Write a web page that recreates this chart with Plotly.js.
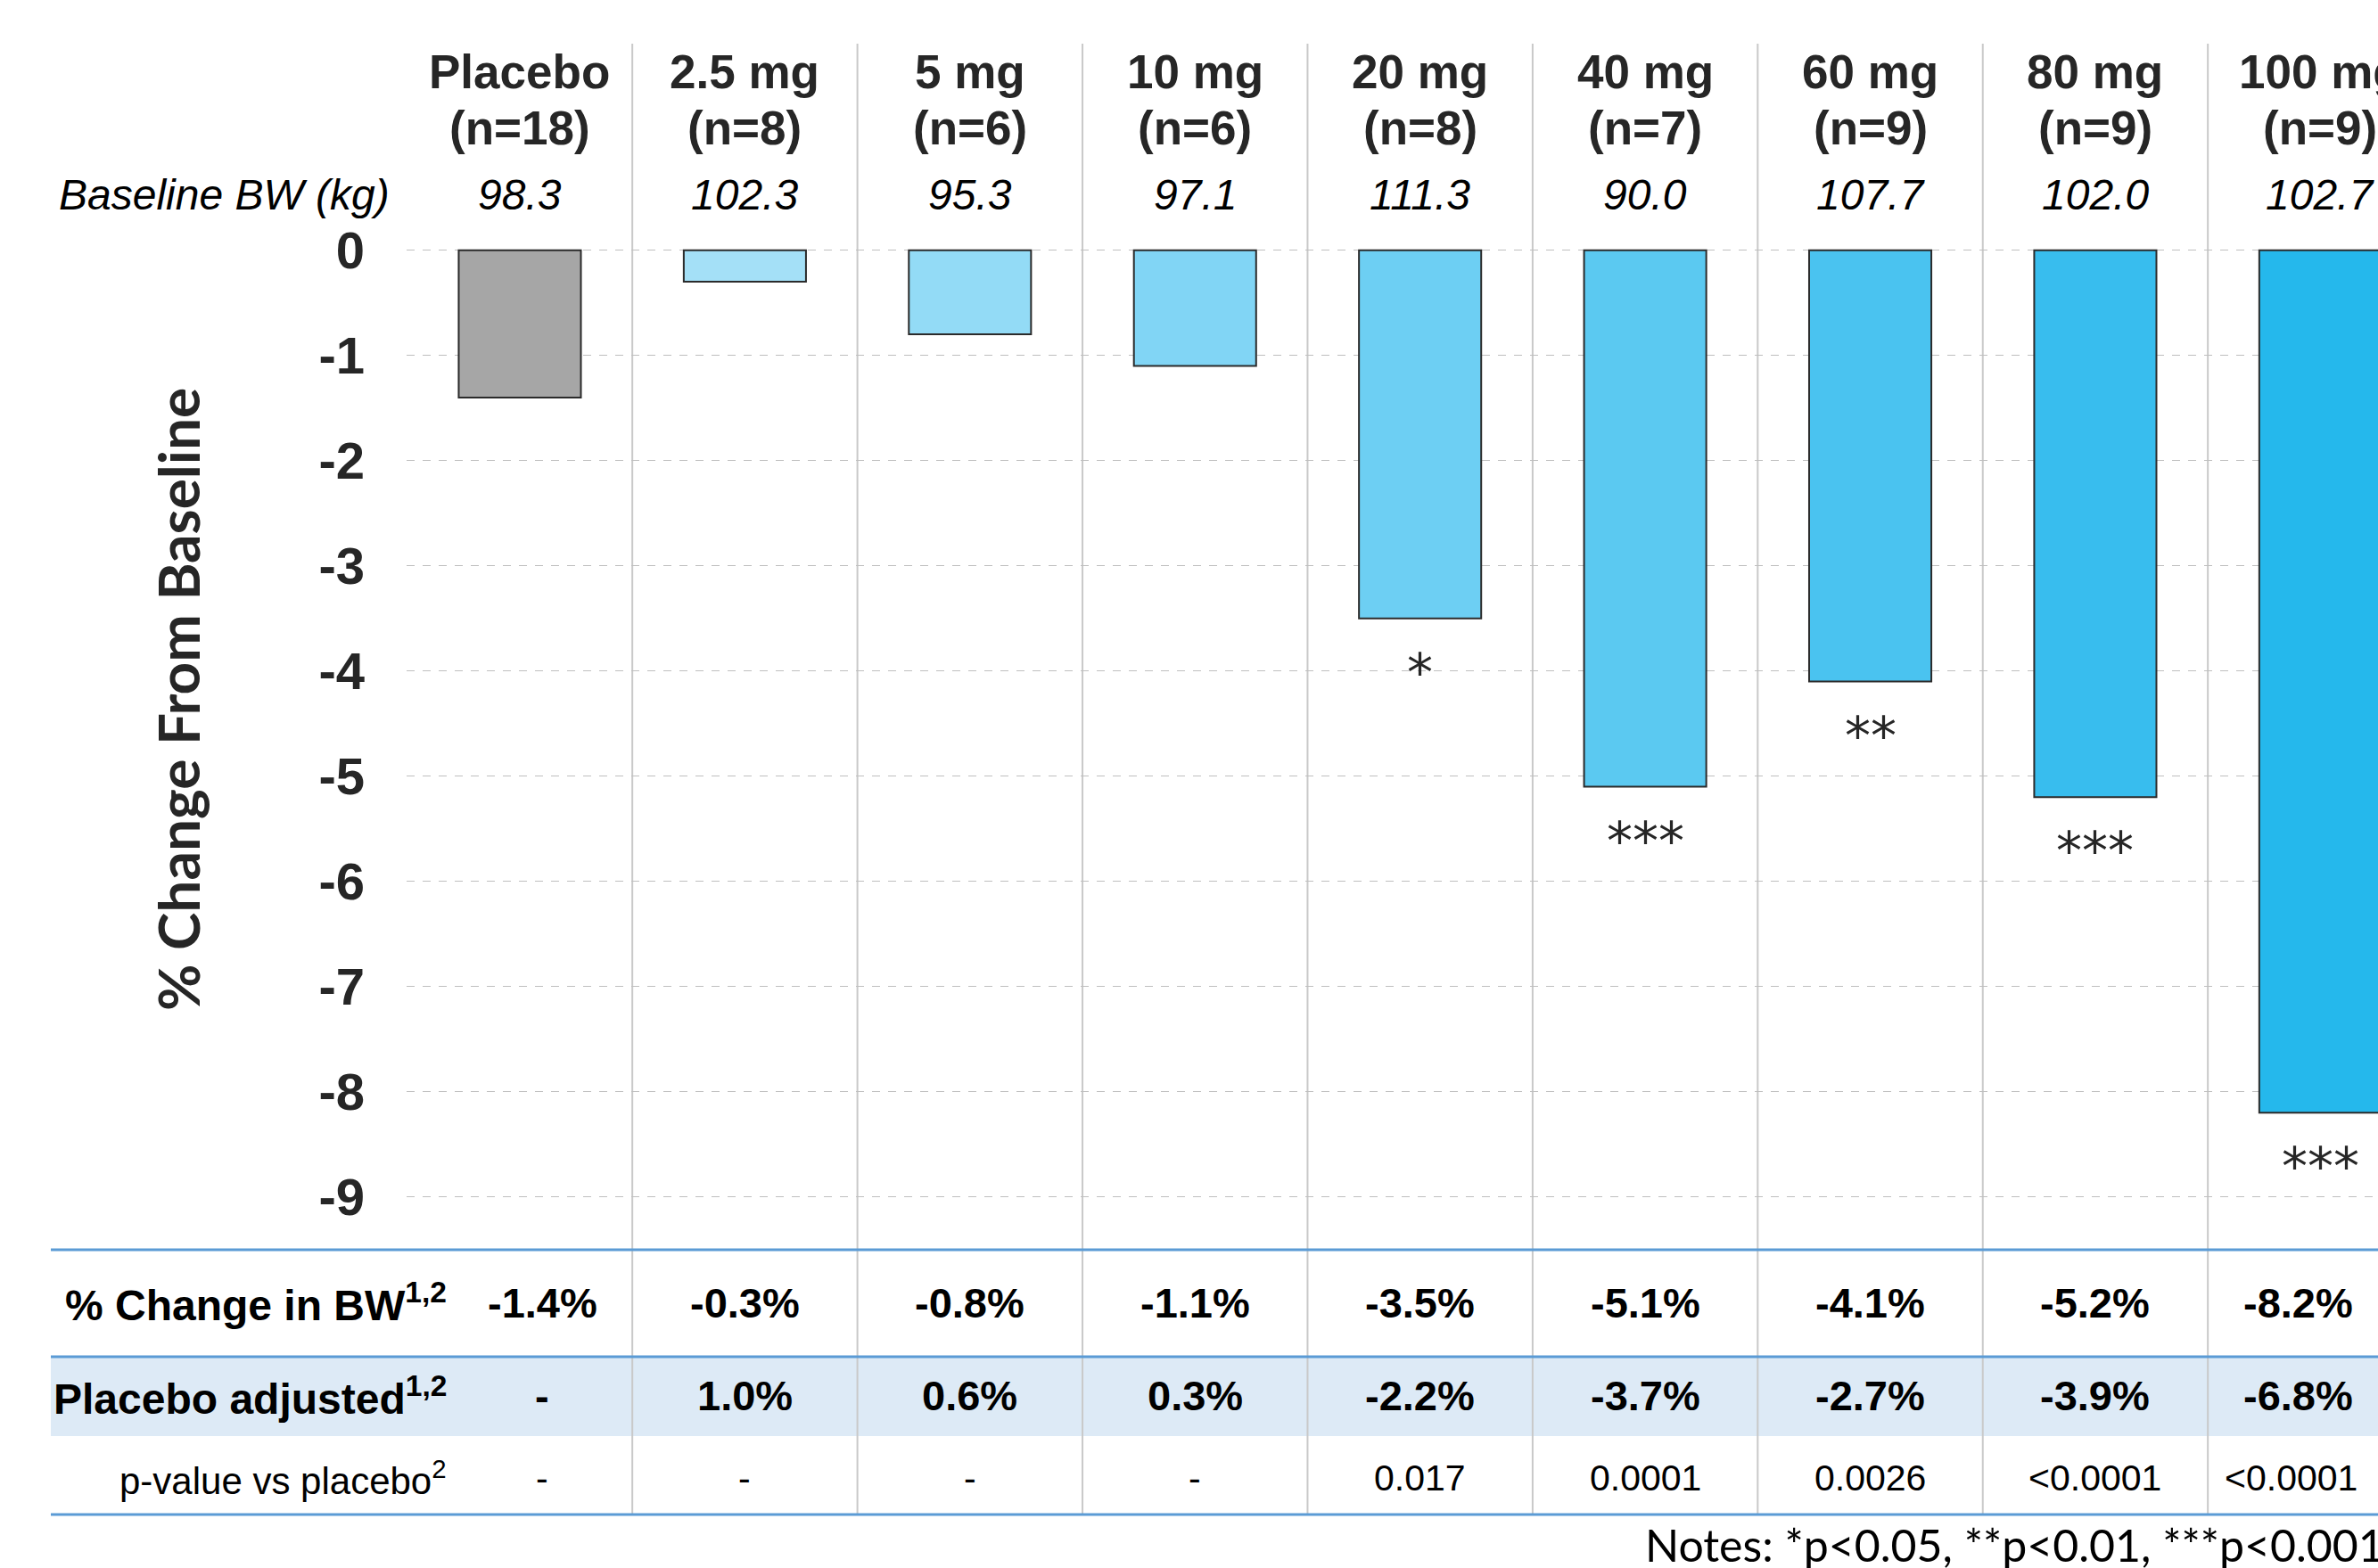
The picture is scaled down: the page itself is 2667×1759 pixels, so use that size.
<!DOCTYPE html>
<html>
<head>
<meta charset="utf-8">
<script src="https://cdn.plot.ly/plotly-3.0.1.min.js"></script>
<style>
  html, body { margin: 0; padding: 0; background: #ffffff; }
  #chart { width: 2667px; height: 1759px; }
</style>
</head>
<body>
<div id="chart"></div>
<script>
// Dose groups and study data
const groups = ['Placebo', '2.5 mg', '5 mg', '10 mg', '20 mg', '40 mg', '60 mg', '80 mg', '100 mg'];
const nCounts = [18, 8, 6, 6, 8, 7, 9, 9, 9];
const baselineBW = ['98.3', '102.3', '95.3', '97.1', '111.3', '90.0', '107.7', '102.0', '102.7'];
const pctChange = [-1.4, -0.3, -0.8, -1.1, -3.5, -5.1, -4.1, -5.2, -8.2];
const placeboAdjusted = [null, 1.0, 0.6, 0.3, -2.2, -3.7, -2.7, -3.9, -6.8];
const pValues = ['-', '-', '-', '-', '0.017', '0.0001', '0.0026', '<0.0001', '<0.0001'];
const stars = ['', '', '', '', '*', '***', '**', '***', '***'];
const yTicks = [0, -1, -2, -3, -4, -5, -6, -7, -8, -9];

const barColors = ['#A6A6A6', '#A4E0F7', '#93DBF6', '#81D5F5', '#6DCFF3', '#5BC9F1', '#4AC3F0', '#38BDEE', '#25B8EC'];

// Page geometry (pixels)
const W = 2667, H = 1759;
const plotLeft = 456, plotTop = 49, plotBottom = 1402;
const paperX = px => (px - plotLeft) / (W - plotLeft);
const paperY = py => (plotBottom - py) / (plotBottom - plotTop);

const SANS = '"Liberation Sans", Arial, sans-serif';
const HUMANIST = 'Lato, "Open Sans", sans-serif';
const DARK = '#262626';

const fmtPct = v => (v === null ? '-' : v.toFixed(1) + '%');

// Horizontal nudge of table cells within a column (category units)
const cellShift = i => (i === 0 ? 0.1 : (i === groups.length - 1 ? -0.1 : 0));

const bars = {
  type: 'bar',
  x: groups,
  y: pctChange,
  marker: { color: barColors, line: { color: '#2b2b2b', width: 2 } },
  hoverinfo: 'skip'
};

const annotations = [];
const shapes = [];

// Row band for the placebo-adjusted line of the table
shapes.push({
  type: 'rect', xref: 'paper', yref: 'paper', layer: 'below',
  x0: paperX(57), x1: 1.02, y0: paperY(1611), y1: paperY(1522),
  fillcolor: '#DDEAF6', line: { width: 0 }
});

// Column separators between dose groups
groups.slice(1).forEach((g, i) => {
  shapes.push({
    type: 'line', xref: 'x', yref: 'paper', layer: 'below',
    x0: i + 0.5, x1: i + 0.5, y0: paperY(1699), y1: 1,
    line: { color: '#C9C9C9', width: 2 }
  });
});

// Table rules
[1402, 1522, 1699].forEach(py => {
  shapes.push({
    type: 'line', xref: 'paper', yref: 'paper', layer: 'above',
    x0: paperX(57), x1: 1.02, y0: paperY(py), y1: paperY(py),
    line: { color: '#5B9BD5', width: 3 }
  });
});

// Column headers, baseline weights, significance marks and table values
groups.forEach((g, i) => {
  annotations.push({
    x: i, y: paperY(80), xref: 'x', yref: 'paper', showarrow: false,
    text: g, yanchor: 'middle',
    font: { family: SANS, size: 53, color: DARK, weight: 'bold' }
  });
  annotations.push({
    x: i, y: paperY(143), xref: 'x', yref: 'paper', showarrow: false,
    text: '(n=' + nCounts[i] + ')', yanchor: 'middle',
    font: { family: SANS, size: 53, color: DARK, weight: 'bold' }
  });
  annotations.push({
    x: i, y: paperY(219), xref: 'x', yref: 'paper', showarrow: false,
    text: baselineBW[i], yanchor: 'middle',
    font: { family: SANS, size: 48, color: '#000000', style: 'italic' }
  });
  if (stars[i]) {
    annotations.push({
      x: i, y: pctChange[i], xref: 'x', yref: 'y', showarrow: false,
      text: stars[i], yanchor: 'middle', yshift: -61,
      font: { family: '"DejaVu Sans", sans-serif', size: 58, color: DARK }
    });
  }
  const tx = i + cellShift(i);
  annotations.push({
    x: tx, y: paperY(1461), xref: 'x', yref: 'paper', showarrow: false,
    text: fmtPct(pctChange[i]), yanchor: 'middle',
    font: { family: SANS, size: 47, color: '#000000', weight: 'bold' }
  });
  annotations.push({
    x: tx, y: paperY(1566), xref: 'x', yref: 'paper', showarrow: false,
    text: fmtPct(placeboAdjusted[i]), yanchor: 'middle',
    font: { family: SANS, size: 47, color: '#000000', weight: 'bold' }
  });
  annotations.push({
    x: tx - (i === groups.length - 1 ? 0.03 : 0), y: paperY(1658), xref: 'x', yref: 'paper', showarrow: false,
    text: pValues[i], yanchor: 'middle',
    font: { family: SANS, size: 41, color: '#000000' }
  });
});

// Row labels
annotations.push({
  x: paperX(64), y: paperY(219), xref: 'paper', yref: 'paper', showarrow: false,
  text: 'Baseline BW (kg)', xanchor: 'left', yanchor: 'middle',
  font: { family: SANS, size: 48, color: '#000000', style: 'italic' }
});
annotations.push({
  x: paperX(503), y: paperY(1461), xref: 'paper', yref: 'paper', showarrow: false,
  text: '% Change in BW<sup>1,2</sup>', xanchor: 'right', yanchor: 'middle',
  font: { family: SANS, size: 48, color: '#000000', weight: 'bold' }
});
annotations.push({
  x: paperX(503), y: paperY(1566), xref: 'paper', yref: 'paper', showarrow: false,
  text: 'Placebo adjusted<sup>1,2</sup>', xanchor: 'right', yanchor: 'middle',
  font: { family: SANS, size: 48, color: '#000000', weight: 'bold' }
});
annotations.push({
  x: paperX(503), y: paperY(1658), xref: 'paper', yref: 'paper', showarrow: false,
  text: 'p-value vs placebo<sup>2</sup>', xanchor: 'right', yanchor: 'middle',
  font: { family: SANS, size: 42, color: '#000000' }
});

// Vertical axis title
annotations.push({
  x: paperX(199), y: paperY(785), xref: 'paper', yref: 'paper', showarrow: false,
  text: '% Change From Baseline', textangle: -90, xanchor: 'center', yanchor: 'middle',
  font: { family: HUMANIST, size: 64, color: DARK, weight: 'bold' }
});

// Footnote
annotations.push({
  x: paperX(1843), y: paperY(1733), xref: 'paper', yref: 'paper', showarrow: false,
  text: 'Notes: *p<0.05, **p<0.01, ***p<0.001', xanchor: 'left', yanchor: 'middle',
  font: { family: HUMANIST, size: 50, color: '#000000' }
});

const layout = {
  width: W, height: H,
  margin: { l: plotLeft, r: 0, t: plotTop, b: H - plotBottom, pad: 0 },
  paper_bgcolor: '#ffffff', plot_bgcolor: '#ffffff',
  showlegend: false,
  bargap: 0.457,
  xaxis: {
    type: 'category', range: [-0.503, 8.256],
    showticklabels: false, showgrid: false, zeroline: false, showline: false, ticks: ''
  },
  yaxis: {
    range: [-9.5025, 1.9636],
    tickvals: yTicks, ticktext: yTicks.map(String),
    tickfont: { family: SANS, size: 58, color: DARK, weight: 'bold' },
    ticks: '', ticklabelstandoff: 46,
    showgrid: true, gridcolor: '#BFBFBF', griddash: 'dash', gridwidth: 1.5,
    zeroline: false, showline: false
  },
  shapes: shapes,
  annotations: annotations
};

Plotly.newPlot('chart', [bars], layout, { staticPlot: true, displayModeBar: false });
</script>
</body>
</html>
